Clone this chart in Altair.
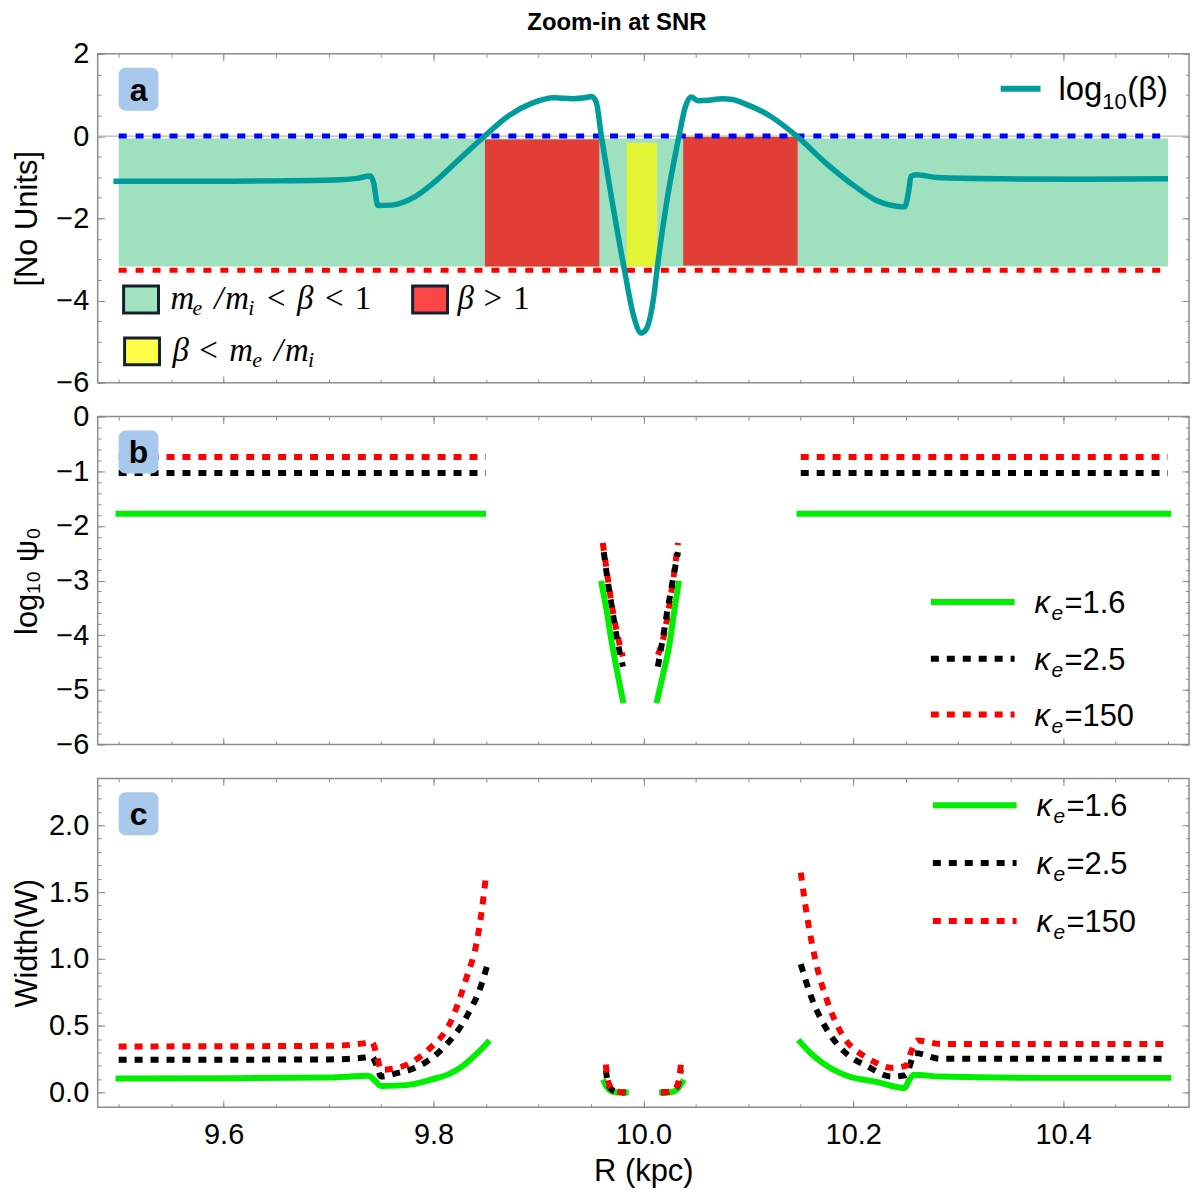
import altair as alt
import pandas as pd

FONT = "Liberation Sans"
SERIF = "Liberation Serif"
FRAME = "#8c8c8c"
W = 1095
HA, HB, HC = 330, 329, 330
XDOM = [9.48, 10.52]
MAJ, MIN = 7, 3.5

# ---------------- tick values ----------------
X_MAJOR = [9.6, 9.8, 10.0, 10.2, 10.4]
X_MINOR = [round(9.5 + 0.05 * i, 2) for i in range(21)]
YA_MAJOR = [-6, -4, -2, 0, 2]
YA_MINOR = [round(-6 + 0.5 * i, 1) for i in range(17)]
YB_MAJOR = [-6, -5, -4, -3, -2, -1, 0]
YB_MINOR = [round(-6 + 0.2 * i, 1) for i in range(31)]
YC_MAJOR = [0.0, 0.5, 1.0, 1.5, 2.0]
YC_MINOR = [round(0.1 * i, 1) for i in range(24)]

# ---------------- panel (a): log10(beta) ----------------
BETA_LEFT = [(9.495, -1.10), (9.58, -1.10), (9.65, -1.09), (9.704, -1.07), (9.727, -1.03),
             (9.740, -0.97), (9.743, -1.14), (9.747, -1.69), (9.760, -1.68), (9.782, -1.48),
             (9.800, -1.14), (9.821, -0.65), (9.847, -0.04), (9.872, 0.50), (9.894, 0.80),
             (9.915, 0.93), (9.933, 0.91), (9.944, 0.93), (9.9505, 0.96), (9.955, 0.83),
             (9.960, -0.01), (9.969, -1.40), (9.982, -3.26), (9.991, -4.40), (9.998, -4.79)]
BETA_RIGHT = [(10.0025, -4.71), (10.010, -3.89), (10.013, -3.26), (10.022, -1.64), (10.034, 0.0),
              (10.040, 0.71), (10.0455, 0.95), (10.052, 0.86), (10.062, 0.87), (10.075, 0.91),
              (10.085, 0.89), (10.0964, 0.79), (10.120, 0.50), (10.147, -0.02), (10.1745, -0.67),
              (10.202, -1.23), (10.2216, -1.56), (10.237, -1.69), (10.249, -1.72), (10.253, -1.31),
              (10.255, -0.98), (10.260, -0.94), (10.280, -1.01), (10.339, -1.04), (10.42, -1.05),
              (10.50, -1.04)]
LOG_ME_MI = -3.264
REGION_X = [9.5, 9.849, 10.038, 9.984]
REGION_X2 = [10.5, 9.958, 10.147, 10.013]
REGION_Y = [-3.17, -3.17, -3.15, -3.17]
REGION_Y2 = [-0.06, -0.085, -0.02, -0.165]
REGION_FILL = ["#9fe1bf", "#e13f35", "#e13f35", "#e3f535"]

# ---------------- panel (b): log10 psi0 ----------------
PSI16_L = [(9.497, -1.776), (9.75, -1.776), (9.85, -1.776)]
PSI16_ML = [(9.9597, -3.005), (9.965, -3.55), (9.970, -4.148), (9.9753, -4.695), (9.981, -5.243)]
PSI16_MR = [(10.0125, -5.243), (10.019, -4.70), (10.025, -4.15), (10.0295, -3.55), (10.0339, -3.005)]
PSI16_R = [(10.146, -1.776), (10.25, -1.776), (10.503, -1.776)]
PSI25_L = [(9.5, -1.03), (9.75, -1.03), (9.85, -1.03)]
PSI25_ML = [(9.9623, -2.48), (9.966, -3.0), (9.9705, -3.55), (9.975, -4.08), (9.9806, -4.575)]
PSI25_MR = [(10.0138, -4.575), (10.018, -4.12), (10.0225, -3.6), (10.028, -3.0), (10.033, -2.48)]
PSI25_R = [(10.15, -1.03), (10.25, -1.03), (10.5, -1.03)]
PSI150_L = [(9.5, -0.74), (9.75, -0.74), (9.85, -0.74)]
PSI150_ML = [(9.9613, -2.31), (9.9637, -2.63), (9.968, -3.21), (9.973, -3.78), (9.9804, -4.39)]
PSI150_MR = [(10.014, -4.36), (10.020, -3.97), (10.025, -3.42), (10.0297, -2.81), (10.033, -2.31)]
PSI150_R = [(10.15, -0.74), (10.25, -0.74), (10.5, -0.74)]

# ---------------- panel (c): width W ----------------
W16_L = [(9.497, 0.105), (9.60, 0.107), (9.70, 0.112), (9.738, 0.125), (9.744, 0.09), (9.750, 0.05),
         (9.765, 0.052), (9.781, 0.063), (9.799, 0.10), (9.815, 0.14), (9.828, 0.20), (9.8425, 0.30),
         (9.8534, 0.39)]
W16_ML = [(9.9615, 0.097), (9.9645, 0.05), (9.9685, 0.015), (9.9725, 0.003), (9.986, 0.0)]
W16_MR = [(10.015, 0.0), (10.026, 0.003), (10.031, 0.015), (10.035, 0.05), (10.0385, 0.097)]
W16_R = [(10.1476, 0.394), (10.160, 0.29), (10.171, 0.22), (10.196, 0.12), (10.22, 0.084),
         (10.249, 0.035), (10.253, 0.09), (10.258, 0.134), (10.283, 0.12), (10.40, 0.11), (10.503, 0.11)]
W25_L = [(9.5, 0.245), (9.70, 0.248), (9.735, 0.262), (9.741, 0.27), (9.746, 0.20), (9.750, 0.12),
         (9.765, 0.145), (9.781, 0.18), (9.797, 0.25), (9.81, 0.34), (9.8317, 0.57), (9.846, 0.815),
         (9.8515, 0.96)]
W25_ML = [(9.9643, 0.17), (9.9655, 0.10), (9.969, 0.03), (9.974, 0.006), (9.983, 0.0)]
W25_MR = [(10.017, 0.0), (10.026, 0.006), (10.031, 0.03), (10.0345, 0.10), (10.0357, 0.17)]
W25_R = [(10.150, 0.96), (10.160, 0.715), (10.175, 0.47), (10.193, 0.295), (10.214, 0.195),
         (10.236, 0.12), (10.250, 0.13), (10.259, 0.295), (10.283, 0.253), (10.40, 0.253), (10.50, 0.253)]
W150_L = [(9.5, 0.345), (9.70, 0.35), (9.735, 0.37), (9.741, 0.38), (9.746, 0.28), (9.750, 0.17),
          (9.770, 0.195), (9.795, 0.32), (9.817, 0.54), (9.8317, 0.865), (9.8408, 1.11), (9.846, 1.36),
          (9.850, 1.62)]
W150_ML = [(9.9643, 0.21), (9.9655, 0.12), (9.969, 0.035), (9.974, 0.008), (9.983, 0.0)]
W150_MR = [(10.017, 0.0), (10.026, 0.008), (10.031, 0.035), (10.0345, 0.12), (10.0357, 0.21)]
W150_R = [(10.150, 1.645), (10.1566, 1.29), (10.164, 0.99), (10.175, 0.69), (10.189, 0.44),
          (10.211, 0.27), (10.22, 0.23), (10.236, 0.185), (10.250, 0.20), (10.255, 0.30),
          (10.261, 0.39), (10.283, 0.364), (10.40, 0.364), (10.50, 0.364)]

KAPPA_LABELS = ["1.6", "2.5", "150"]
KAPPA_COLORS = ["#00ee00", "#000000", "#ff0000"]
KAPPA_DASH = [None, [8, 8], [8, 8]]

ONE = pd.DataFrame({"k": [0]})


def xs():
    return alt.Scale(domain=XDOM, nice=False, zero=False)


def ys(dom):
    return alt.Scale(domain=dom, nice=False, zero=False)


def seg_df(**segs):
    rows = []
    for name, pts in segs.items():
        for x, y in pts:
            rows.append({"x": x, "y": y, "seg": name})
    return pd.DataFrame(rows)


def series(df, dom, color, dash, width=6):
    kw = dict(color=color, strokeWidth=width, interpolate="monotone")
    if dash:
        kw["strokeDash"] = dash
    return alt.Chart(df).mark_line(**kw).encode(
        x=alt.X("x:Q", scale=xs(), axis=None),
        y=alt.Y("y:Q", scale=ys(dom), axis=None),
        detail="seg:N")


def hline(x1, x2, y, color, width, dash=None):
    kw = dict(color=color, strokeWidth=width)
    if dash:
        kw["strokeDash"] = dash
    return alt.Chart(ONE).mark_rule(**kw).encode(
        x=alt.value(x1), x2=alt.value(x2), y=alt.value(y))


def txt(x, y, text, size, font=FONT, style="normal", weight="normal", align="left",
        baseline="alphabetic"):
    return alt.Chart(ONE).mark_text(text=text, font=font, fontSize=size, fontStyle=style,
                                    fontWeight=weight, align=align, baseline=baseline,
                                    color="black").encode(x=alt.value(x), y=alt.value(y))


def box(x1, x2, y1, y2, fill, stroke=None, sw=0, radius=0):
    kw = dict(fill=fill, cornerRadius=radius)
    if stroke:
        kw.update(stroke=stroke, strokeWidth=sw)
    return alt.Chart(ONE).mark_rect(**kw).encode(
        x=alt.value(x1), x2=alt.value(x2), y=alt.value(y1), y2=alt.value(y2))


def badge(letter):
    return [box(21, 61, 14, 57, "#a9c9ec", radius=7),
            txt(41, 37, letter, 32, weight="bold", align="center", baseline="middle")]


def kappa_legend(x0, y_rows):
    out = []
    for lab, col, dash, y in zip(KAPPA_LABELS, KAPPA_COLORS, KAPPA_DASH, y_rows):
        out.append(hline(x0, x0 + 84, y, col, 6, dash))
        tx = x0 + 104
        out.append(txt(tx, y + 11, "κ", 31, style="italic"))
        out.append(txt(tx + 17, y + 18, "e", 21, style="italic"))
        out.append(txt(tx + 30, y + 11, "=" + lab, 31))
    return out


def frame_axes(H, dom, ymaj, ymin, yfmt, ytitle, xlabels):
    df = pd.DataFrame({"x": [XDOM[0]], "y": [dom[0]]})
    base = dict(grid=False, domain=False, labels=False, title=None, tickColor=FRAME, tickWidth=1)
    layers = []
    for xo, yo, xv, yv, size in [("top", "right", X_MAJOR, ymaj, MAJ),
                                 ("top", "right", X_MINOR, ymin, MIN),
                                 ("bottom", "left", X_MAJOR, ymaj, MAJ),
                                 ("bottom", "left", X_MINOR, ymin, MIN)]:
        layers.append(alt.Chart(df).mark_point(opacity=0).encode(
            x=alt.X("x:Q", scale=xs(), axis=alt.Axis(orient=xo, offset=-H, values=xv, tickSize=size, **base)),
            y=alt.Y("y:Q", scale=ys(dom), axis=alt.Axis(orient=yo, offset=-W, values=yv, tickSize=size, **base))))
    lab = dict(grid=False, domain=False, ticks=False, tickSize=0, labelFont=FONT, labelFontSize=29,
               labelColor="black", titleFont=FONT, titleFontSize=31, titleFontWeight="normal",
               titleColor="black")
    if xlabels:
        xaxis = alt.Axis(orient="bottom", values=X_MAJOR, format=".1f", labelPadding=13,
                         title="R (kpc)", titlePadding=7, **lab)
    else:
        xaxis = None
    yaxis = alt.Axis(orient="left", values=ymaj, format=yfmt, labelPadding=9, title=ytitle,
                     titleX=-70, titleY=H / 2, titleAngle=270, titleBaseline="middle",
                     titleAlign="center", **lab)
    layers.append(alt.Chart(df).mark_point(opacity=0).encode(
        x=alt.X("x:Q", scale=xs(), axis=xaxis),
        y=alt.Y("y:Q", scale=ys(dom), axis=yaxis)))
    return layers


# ---------------- panel a ----------------
DOM_A = [-6, 2]
beta_df = seg_df(all=BETA_LEFT + BETA_RIGHT)
regions = pd.DataFrame({"x": REGION_X, "x2": REGION_X2, "y": REGION_Y, "y2": REGION_Y2, "c": REGION_FILL})
rects = alt.Chart(regions).mark_rect().encode(
    x=alt.X("x:Q", scale=xs(), axis=None), x2="x2:Q",
    y=alt.Y("y:Q", scale=ys(DOM_A), axis=None), y2="y2:Q",
    fill=alt.Fill("c:N", scale=None))
zero_axis = alt.Chart(pd.DataFrame({"y": [0]})).mark_rule(color="#b5b5b5", strokeWidth=1.2).encode(
    y=alt.Y("y:Q", scale=ys(DOM_A), axis=None))
thr = pd.DataFrame({"x": [9.5, 9.5], "x2": [10.5, 10.5], "y": [0.0, LOG_ME_MI], "c": ["#0000ff", "#ff0000"]})
thr_lines = alt.Chart(thr).mark_rule(strokeWidth=5, strokeDash=[8, 9]).encode(
    x=alt.X("x:Q", scale=xs(), axis=None), x2="x2:Q",
    y=alt.Y("y:Q", scale=ys(DOM_A), axis=None),
    color=alt.Color("c:N", scale=None))
beta_line = series(beta_df, DOM_A, "#009b9b", None, width=5.5)

leg_a = [
    txt(521, -31, "Zoom-in at SNR", 24, weight="bold", align="center", baseline="middle"),
    hline(906, 946, 35, "#009b9b", 6),
    txt(964, 46, "log", 33),
    txt(1008, 55, "10", 22),
    txt(1033, 46, "(β)", 33),
    box(26, 61, 233, 260, "#a0e4c0", "#14202e", 3),
    box(316, 351, 233, 260, "#ff4646", "#14202e", 3),
    box(27, 62, 285, 312, "#ffff46", "#14202e", 3),
]
MS = 33
SUB = 22
x0, yb = 73, 256
leg_a += [
    txt(x0, yb, "m", MS, SERIF, "italic"), txt(x0 + 22, yb + 6, "e", SUB, SERIF, "italic"),
    txt(x0 + 44, yb, "/", MS, SERIF, "italic"),
    txt(x0 + 55, yb, "m", MS, SERIF, "italic"), txt(x0 + 78, yb + 6, "i", SUB, SERIF, "italic"),
    txt(x0 + 97, yb, "<", MS, SERIF), txt(x0 + 127, yb, "β", MS, SERIF, "italic"),
    txt(x0 + 155, yb, "<", MS, SERIF), txt(x0 + 185, yb, "1", MS, SERIF),
]
x1 = 361
leg_a += [txt(x1, yb, "β", MS, SERIF, "italic"), txt(x1 + 26, yb, ">", MS, SERIF),
          txt(x1 + 56, yb, "1", MS, SERIF)]
x2, yb2 = 75, 308
leg_a += [
    txt(x2, yb2, "β", MS, SERIF, "italic"), txt(x2 + 27, yb2, "<", MS, SERIF),
    txt(x2 + 57, yb2, "m", MS, SERIF, "italic"), txt(x2 + 80, yb2 + 6, "e", SUB, SERIF, "italic"),
    txt(x2 + 102, yb2, "/", MS, SERIF, "italic"),
    txt(x2 + 113, yb2, "m", MS, SERIF, "italic"), txt(x2 + 136, yb2 + 6, "i", SUB, SERIF, "italic"),
]

panel_a = alt.layer(
    rects, zero_axis, thr_lines, beta_line, *leg_a, *badge("a"),
    *frame_axes(HA, DOM_A, YA_MAJOR, YA_MINOR, "d", "[No Units]", False)
).resolve_axis(x="independent", y="independent").properties(width=W, height=HA)

# ---------------- panel b ----------------
DOM_B = [-6, 0]
psi_sets = [
    seg_df(L=PSI16_L, ML=PSI16_ML, MR=PSI16_MR, R=PSI16_R),
    seg_df(L=PSI25_L, ML=PSI25_ML, MR=PSI25_MR, R=PSI25_R),
    seg_df(L=PSI150_L, ML=PSI150_ML, MR=PSI150_MR, R=PSI150_R),
]
psi_layers = [series(d, DOM_B, c, dsh) for d, c, dsh in zip(psi_sets, KAPPA_COLORS, KAPPA_DASH)]
panel_b = alt.layer(
    *psi_layers[::-1], *kappa_legend(836, [186, 243, 299]), *badge("b"),
    *frame_axes(HB, DOM_B, YB_MAJOR, YB_MINOR, "d", "log₁₀ ψ₀", False)
).resolve_axis(x="independent", y="independent").properties(width=W, height=HB)

# ---------------- panel c ----------------
DOM_C = [-0.11, 2.35]
w_sets = [
    seg_df(L=W16_L, ML=W16_ML, MR=W16_MR, R=W16_R),
    seg_df(L=W25_L, ML=W25_ML, MR=W25_MR, R=W25_R),
    seg_df(L=W150_L, ML=W150_ML, MR=W150_MR, R=W150_R),
]
w_layers = [series(d, DOM_C, c, dsh) for d, c, dsh in zip(w_sets, KAPPA_COLORS, KAPPA_DASH)]
panel_c = alt.layer(
    *w_layers, *kappa_legend(838, [27, 85, 143]), *badge("c"),
    *frame_axes(HC, DOM_C, YC_MAJOR, YC_MINOR, ".1f", "Width(W)", True)
).resolve_axis(x="independent", y="independent").properties(width=W, height=HC)

chart = alt.vconcat(panel_a, panel_b, panel_c, spacing=34, bounds="flush").properties(
    padding={"left": 3, "top": 0, "right": 1, "bottom": 0},
).configure_view(stroke=FRAME, strokeWidth=1.5)

chart.save("out.html", embed_options={"renderer": "svg", "actions": False})
